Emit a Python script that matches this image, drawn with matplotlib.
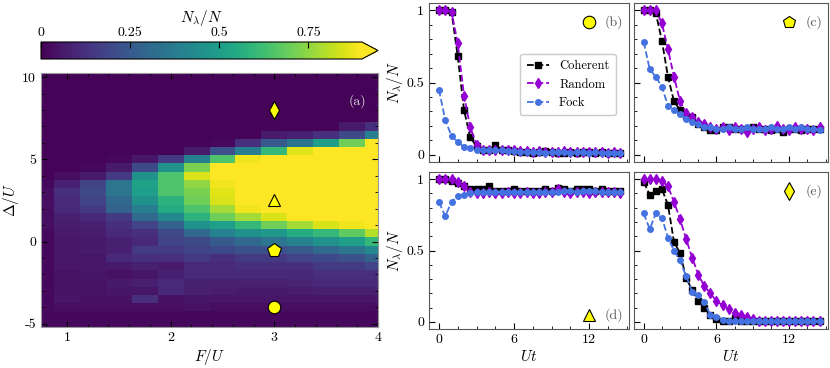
import numpy as np
import matplotlib
matplotlib.use("Agg")
import matplotlib.pyplot as plt
from matplotlib.ticker import MultipleLocator

plt.rcParams['font.family'] = ['cmr10', 'DejaVu Serif']
plt.rcParams['mathtext.fontset'] = 'cm'
plt.rcParams['axes.unicode_minus'] = False
plt.rcParams['font.size'] = 10

# ---------------- heat map data ----------------
F_vals = [0.75, 1.0, 1.25, 1.5, 1.75, 2.0, 2.25, 2.5, 2.75, 3.0, 3.25, 3.5, 3.75, 4.0]
D_vals = [-5.0, -4.5, -4.0, -3.5, -3.0, -2.5, -2.0, -1.5, -1.0, -0.5, 0.0, 0.5, 1.0,
          1.5, 2.0, 2.5, 3.0, 3.5, 4.0, 4.5, 5.0, 5.5, 6.0, 6.5, 7.0, 7.5, 8.0, 8.5,
          9.0, 9.5, 10.0]
# rows ordered from Delta=-5 (first) to Delta=10 (last)
N_map = [
    [0.02, 0.02, 0.02, 0.02, 0.02, 0.02, 0.02, 0.02, 0.02, 0.02, 0.02, 0.02, 0.02, 0.02],
    [0.02, 0.02, 0.02, 0.02, 0.02, 0.02, 0.02, 0.02, 0.02, 0.02, 0.02, 0.02, 0.02, 0.02],
    [0.02, 0.03, 0.03, 0.03, 0.03, 0.03, 0.04, 0.03, 0.03, 0.03, 0.03, 0.03, 0.03, 0.03],
    [0.02, 0.05, 0.04, 0.04, 0.12, 0.04, 0.05, 0.05, 0.05, 0.05, 0.05, 0.05, 0.05, 0.05],
    [0.02, 0.04, 0.04, 0.05, 0.05, 0.10, 0.08, 0.07, 0.06, 0.06, 0.07, 0.08, 0.08, 0.08],
    [0.02, 0.04, 0.04, 0.06, 0.08, 0.10, 0.08, 0.08, 0.08, 0.08, 0.09, 0.10, 0.10, 0.10],
    [0.02, 0.04, 0.05, 0.04, 0.05, 0.08, 0.10, 0.10, 0.10, 0.10, 0.10, 0.12, 0.12, 0.12],
    [0.02, 0.05, 0.05, 0.06, 0.08, 0.06, 0.10, 0.10, 0.12, 0.12, 0.12, 0.15, 0.15, 0.18],
    [0.02, 0.05, 0.05, 0.10, 0.12, 0.12, 0.15, 0.12, 0.15, 0.15, 0.18, 0.20, 0.22, 0.28],
    [0.02, 0.05, 0.06, 0.08, 0.15, 0.15, 0.18, 0.20, 0.22, 0.22, 0.25, 0.30, 0.35, 0.42],
    [0.02, 0.05, 0.06, 0.08, 0.10, 0.18, 0.20, 0.25, 0.30, 0.35, 0.40, 0.45, 0.50, 0.60],
    [0.02, 0.06, 0.07, 0.10, 0.12, 0.20, 0.30, 0.40, 0.45, 0.48, 0.55, 0.60, 0.68, 0.80],
    [0.03, 0.07, 0.08, 0.12, 0.18, 0.28, 0.45, 0.50, 0.60, 0.70, 0.78, 0.85, 0.88, 0.90],
    [0.03, 0.08, 0.10, 0.15, 0.30, 0.42, 0.58, 0.70, 0.78, 0.85, 0.90, 0.92, 0.95, 0.95],
    [0.03, 0.10, 0.15, 0.28, 0.38, 0.55, 0.65, 0.78, 0.88, 0.92, 0.97, 1.00, 1.00, 1.00],
    [0.03, 0.10, 0.18, 0.30, 0.45, 0.58, 0.70, 0.85, 0.92, 0.98, 1.00, 1.00, 1.00, 1.00],
    [0.03, 0.12, 0.20, 0.35, 0.50, 0.65, 0.72, 0.86, 0.95, 1.00, 1.00, 1.00, 1.00, 1.00],
    [0.02, 0.08, 0.18, 0.35, 0.52, 0.65, 0.75, 0.88, 0.97, 1.00, 1.00, 1.00, 1.00, 1.00],
    [0.01, 0.03, 0.06, 0.15, 0.45, 0.65, 0.85, 0.95, 1.00, 1.00, 1.00, 1.00, 1.00, 1.00],
    [0.01, 0.01, 0.02, 0.06, 0.20, 0.45, 0.72, 0.92, 1.00, 1.00, 1.00, 1.00, 1.00, 1.00],
    [0.01, 0.01, 0.01, 0.02, 0.05, 0.15, 0.38, 0.65, 0.88, 1.00, 1.00, 1.00, 1.00, 1.00],
    [0.01, 0.01, 0.01, 0.01, 0.01, 0.01, 0.06, 0.22, 0.38, 0.60, 0.86, 0.95, 1.00, 1.00],
    [0.01, 0.01, 0.01, 0.01, 0.01, 0.01, 0.01, 0.02, 0.12, 0.25, 0.35, 0.50, 0.70, 0.90],
    [0.01, 0.01, 0.01, 0.01, 0.01, 0.01, 0.01, 0.01, 0.01, 0.06, 0.08, 0.12, 0.20, 0.38],
    [0.01, 0.01, 0.01, 0.01, 0.01, 0.01, 0.01, 0.01, 0.01, 0.01, 0.01, 0.01, 0.06, 0.12],
    [0.01] * 14,
    [0.01] * 14,
    [0.01] * 14,
    [0.01] * 14,
    [0.01] * 14,
    [0.01] * 14,
]

marker_F = [3, 3, 3, 3]
marker_D = [8, 2.5, -0.5, -4]
marker_shapes = ['d', '^', 'p', 'o']

# ---------------- time traces ----------------
t = np.arange(0, 15, 0.5)

b_coh = [1.0, 1.0, 0.99, 0.68, 0.31, 0.12, 0.06, 0.035, 0.035, 0.065, 0.035, 0.03, 0.025, 0.02, 0.02,
         0.015, 0.02, 0.025, 0.02, 0.015, 0.015, 0.02, 0.015, 0.02, 0.02, 0.015, 0.02, 0.015, 0.015, 0.015]
b_rnd = [1.0, 1.0, 0.99, 0.77, 0.41, 0.19, 0.07, 0.035, 0.03, 0.035, 0.03, 0.035, 0.03, 0.025, 0.025,
         0.02, 0.025, 0.02, 0.02, 0.02, 0.025, 0.02, 0.02, 0.02, 0.02, 0.02, 0.02, 0.015, 0.02, 0.015]
b_fock = [0.45, 0.24, 0.13, 0.09, 0.055, 0.045, 0.035, 0.035, 0.03, 0.035, 0.03, 0.025, 0.025, 0.02, 0.02,
          0.02, 0.02, 0.015, 0.02, 0.02, 0.02, 0.015, 0.02, 0.02, 0.015, 0.02, 0.015, 0.015, 0.015, 0.015]

c_coh = [1.0, 1.0, 0.98, 0.79, 0.54, 0.37, 0.31, 0.27, 0.26, 0.21, 0.19, 0.17, 0.17, 0.19, 0.19,
         0.18, 0.18, 0.18, 0.19, 0.18, 0.18, 0.17, 0.18, 0.16, 0.18, 0.18, 0.17, 0.18, 0.18, 0.18]
c_rnd = [1.0, 1.0, 1.0, 0.91, 0.73, 0.54, 0.37, 0.29, 0.26, 0.23, 0.21, 0.19, 0.18, 0.19, 0.17,
         0.19, 0.18, 0.16, 0.18, 0.19, 0.17, 0.18, 0.20, 0.18, 0.17, 0.19, 0.18, 0.18, 0.17, 0.19]
c_fock = [0.78, 0.59, 0.54, 0.47, 0.34, 0.31, 0.28, 0.25, 0.225, 0.21, 0.195, 0.19, 0.18, 0.18, 0.19,
          0.18, 0.18, 0.19, 0.18, 0.18, 0.18, 0.19, 0.18, 0.18, 0.19, 0.18, 0.19, 0.18, 0.18, 0.17]

d_coh = [1.0, 1.0, 0.99, 0.97, 0.95, 0.93, 0.93, 0.93, 0.95, 0.92, 0.92, 0.92, 0.93, 0.92, 0.92,
         0.92, 0.92, 0.93, 0.92, 0.94, 0.93, 0.92, 0.93, 0.93, 0.93, 0.92, 0.93, 0.92, 0.92, 0.92]
d_rnd = [1.0, 1.0, 1.0, 0.98, 0.95, 0.91, 0.90, 0.90, 0.91, 0.90, 0.90, 0.91, 0.90, 0.90, 0.91,
         0.90, 0.90, 0.91, 0.91, 0.93, 0.91, 0.90, 0.91, 0.91, 0.90, 0.91, 0.91, 0.91, 0.91, 0.90]
d_fock = [0.84, 0.74, 0.84, 0.88, 0.89, 0.90, 0.91, 0.91, 0.91, 0.91, 0.91, 0.91, 0.91, 0.91, 0.91,
          0.91, 0.91, 0.91, 0.91, 0.91, 0.92, 0.92, 0.91, 0.92, 0.92, 0.92, 0.91, 0.91, 0.91, 0.91]

e_coh = [0.98, 0.89, 0.915, 0.93, 0.82, 0.56, 0.48, 0.31, 0.22, 0.145, 0.094, 0.048, 0.02, 0.007, 0.005,
         0.025, 0.005, 0.005, 0.005, 0.005, 0.005, 0.005, 0.005, 0.005, 0.005, 0.005, 0.005, 0.005, 0.005, 0.005]
e_rnd = [1.0, 1.0, 1.0, 0.99, 0.95, 0.84, 0.72, 0.58, 0.45, 0.33, 0.25, 0.20, 0.145, 0.117, 0.09,
         0.064, 0.048, 0.037, 0.02, 0.008, 0.006, 0.006, 0.006, 0.006, 0.006, 0.006, 0.006, 0.006, 0.006, 0.006]
e_fock = [0.76, 0.65, 0.76, 0.73, 0.59, 0.50, 0.43, 0.32, 0.21, 0.185, 0.14, 0.048, 0.037, 0.014, 0.007,
          0.005, 0.005, 0.005, 0.005, 0.005, 0.005, 0.005, 0.005, 0.005, 0.005, 0.005, 0.005, 0.005, 0.005, 0.005]

series_names = ['Coherent', 'Random', 'Fock']
panel_data = {
    'b': (b_coh, b_rnd, b_fock),
    'c': (c_coh, c_rnd, c_fock),
    'd': (d_coh, d_rnd, d_fock),
    'e': (e_coh, e_rnd, e_fock),
}
panel_marker = {'b': 'o', 'c': 'p', 'd': '^', 'e': 'd'}

# ---------------- figure ----------------
W, H = 830, 368
fig = plt.figure(figsize=(W / 100, H / 100), dpi=100)


def rect(x0, y0, x1, y1):
    return [x0 / W, 1 - y1 / H, (x1 - x0) / W, (y1 - y0) / H]


spine_col = '0.35'
YEL = '#ffff00'

# heat map
ax = fig.add_axes(rect(41, 73, 378, 327))
pm = ax.pcolormesh(F_vals, D_vals, np.array(N_map), shading='nearest', cmap='viridis',
                   vmin=0, vmax=0.9)
ax.set_xlim(0.75, 4)
ax.set_ylim(-5.2, 10.25)
ax.set_xticks([1, 2, 3, 4])
ax.set_xticklabels(['1', '2', '3', '4'])
ax.set_yticks([-5, 0, 5, 10])
ax.set_yticklabels(['-5', '0', '5', '10'])
ax.xaxis.set_minor_locator(MultipleLocator(0.2))
ax.yaxis.set_minor_locator(MultipleLocator(1))
ax.tick_params(which='both', direction='in', top=True, right=True)
ax.tick_params(which='major', length=4)
ax.tick_params(which='minor', length=2)
for s in ax.spines.values():
    s.set_color('0.6')
ax.set_xlabel(r'$F/U$', fontsize=11, labelpad=2)
ax.set_ylabel(r'$\Delta/U$', fontsize=11)
ax.yaxis.set_label_coords(-0.058, 0.5)
for xf, yd, mk in zip(marker_F, marker_D, marker_shapes):
    ax.plot(xf, yd, marker=mk, ms=9 if mk != 'p' else 10, mfc=YEL, mec='black', mew=0.8, ls='none')
ax.text(0.965, 0.89, '(a)', transform=ax.transAxes, ha='right', va='center', color='0.85', fontsize=10)

# colorbar
cax = fig.add_axes(rect(41, 42, 378, 59))
cb = fig.colorbar(pm, cax=cax, orientation='horizontal', extend='max')
cb.set_ticks([0, 0.25, 0.5, 0.75])
cb.set_ticklabels(['0', '0.25', '0.5', '0.75'])
cax.xaxis.set_ticks_position('top')
cax.xaxis.set_label_position('top')
cax.tick_params(direction='in', length=4, pad=2)
cb.set_label(r'$N_\lambda/N$', fontsize=11, labelpad=4)
cb.outline.set_linewidth(0.8)

# time panels
panel_rects = {
    'b': rect(429, 3, 629, 162),
    'c': rect(634, 3, 828, 162),
    'd': rect(429, 172, 629, 329),
    'e': rect(634, 172, 828, 329),
}
styles = [
    dict(color='black', marker='s', ms=4.5),
    dict(color='#9400D3', marker='d', ms=5),
    dict(color='#4472E0', marker='o', ms=4),
]
label_pos = {'b': (0.97, 0.88), 'c': (0.97, 0.88), 'd': (0.97, 0.09), 'e': (0.97, 0.88)}

for key, r in panel_rects.items():
    a = fig.add_axes(r)
    for vals, st, nm in zip(panel_data[key], styles, series_names):
        a.plot(t, vals, ls='--', lw=1.3, label=nm, mec=st['color'], mfc=st['color'],
               color=st['color'], marker=st['marker'], ms=st['ms'])
    a.set_xlim(-0.8, 15.2)
    a.set_ylim(-0.05, 1.05)
    a.set_xticks([0, 6, 12])
    a.set_yticks([0, 0.5, 1])
    a.xaxis.set_minor_locator(MultipleLocator(1.5))
    a.yaxis.set_minor_locator(MultipleLocator(0.1))
    a.tick_params(which='both', direction='in')
    a.tick_params(which='major', length=4)
    a.tick_params(which='minor', length=2)
    for s in a.spines.values():
        s.set_color(spine_col)
    if key in ('b', 'd'):
        a.set_yticklabels(['0', '0.5', '1'])
        a.set_ylabel(r'$N_\lambda/N$', fontsize=11, labelpad=1)
    else:
        a.set_yticklabels([])
    if key in ('d', 'e'):
        a.set_xticklabels(['0', '6', '12'])
        a.set_xlabel(r'$Ut$', fontsize=11, labelpad=2)
    else:
        a.set_xticklabels([])
    lx, ly = label_pos[key]
    a.text(lx, ly, '(' + key + ')', transform=a.transAxes, ha='right', va='center',
           color='0.35', fontsize=10)
    a.plot([lx - 0.17], [ly], transform=a.transAxes, marker=panel_marker[key], ms=9,
           mfc=YEL, mec='black', mew=0.8, ls='none', clip_on=False)
    if key == 'b':
        a.legend(loc='upper right', bbox_to_anchor=(0.965, 0.72), fontsize=9, frameon=True,
                 edgecolor='0.75', handlelength=1.8, borderpad=0.5, labelspacing=0.5)

fig.savefig('out.png', dpi=100)
